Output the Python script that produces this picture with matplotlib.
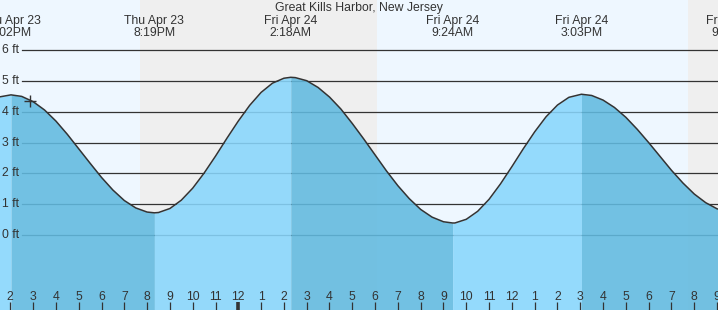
import matplotlib
matplotlib.use("Agg")
import matplotlib.pyplot as plt
from matplotlib.transforms import blended_transform_factory

# hours counted from Thu Apr 23 00:00
hours = [13.5, 14.03, 14.5, 15, 15.5, 16, 16.5, 17, 17.5, 18, 18.5, 19, 19.5, 20,
         20.32, 20.5, 21, 21.5, 22, 22.5, 23, 23.5, 24, 24.5, 25, 25.5, 26,
         26.3, 26.5, 27, 27.5, 28, 28.5, 29, 29.5, 30, 30.5, 31, 31.5, 32, 32.5, 33,
         33.4, 33.5, 34, 34.5, 35, 35.5, 36, 36.5, 37, 37.5, 38, 38.5,
         39.05, 39.5, 40, 40.5, 41, 41.5, 42, 42.5, 43, 43.5, 44, 44.5, 45, 45.5]
heights = [4.48, 4.55, 4.50, 4.33, 4.06, 3.70, 3.27, 2.80, 2.33, 1.87, 1.46, 1.12, 0.88, 0.745,
           0.72, 0.73, 0.86, 1.13, 1.52, 2.01, 2.56, 3.14, 3.70, 4.21, 4.63, 4.93, 5.09,
           5.12, 5.11, 5.01, 4.79, 4.48, 4.09, 3.62, 3.12, 2.60, 2.08, 1.60, 1.18, 0.83, 0.58, 0.43,
           0.39, 0.39, 0.51, 0.77, 1.16, 1.66, 2.22, 2.80, 3.35, 3.84, 4.22, 4.47,
           4.57, 4.53, 4.38, 4.14, 3.82, 3.43, 3.00, 2.55, 2.10, 1.69, 1.33, 1.05, 0.85, 0.76]

# high / low tide events
event_hours = [14.03, 20.32, 26.3, 33.4, 39.05, 45.68]
event_labels = ["Thu Apr 23\n2:02PM", "Thu Apr 23\n8:19PM", "Fri Apr 24\n2:18AM",
                "Fri Apr 24\n9:24AM", "Fri Apr 24\n3:03PM", "Fri Apr 24\n9:41PM"]

# night (sunset -> sunrise)
night_spans = [(19.69, 30.08), (43.72, 50.0)]

feet_levels = [0, 1, 2, 3, 4, 5, 6]
tick_hours = list(range(14, 46))
now_hour, now_height = 14.86, 4.36

TXT = "#333333"
plt.rcParams["font.family"] = ["Liberation Sans", "DejaVu Sans"]

fig = plt.figure(figsize=(7.18, 3.10), dpi=100)
ax = fig.add_axes([0, 0, 1, 1])
ax.set_xlim(13.548, 45.04)
ax.set_ylim(-2.435, 7.63)
ax.set_facecolor("#eef7ff")
ax.set_axisbelow(False)
for s in ax.spines.values():
    s.set_visible(False)

for a, b in night_spans:
    ax.axvspan(a, b, color="#efefef", lw=0, zorder=0)

ytrans = blended_transform_factory(ax.transAxes, ax.transData)
for lv in feet_levels:
    ax.axhline(lv, xmin=22 / 718, color=TXT, lw=0.9, zorder=1)
    ax.text(2 / 718, lv, f"{lv} ft", transform=ytrans,
            ha="left", va="center", fontsize=8.8, color=TXT, zorder=5)

# rising = light, falling = dark
bounds = [hours[0]] + event_hours[:-1] + [hours[-1]]
for i in range(len(bounds) - 1):
    lo, hi = bounds[i], bounds[i + 1]
    xs = [t for t in hours if lo <= t <= hi]
    ys = [h for t, h in zip(hours, heights) if lo <= t <= hi]
    rising = (i % 2 == 0)
    ax.fill_between(xs, ys, -3, color="#88d6fc" if rising else "#61bae0",
                    alpha=0.88, lw=0, zorder=2)

ax.plot(hours, heights, color=TXT, lw=1.1, zorder=4, solid_joinstyle="round")
ax.plot([now_hour], [now_height], marker="+", ms=8, mew=1.0, color=TXT, zorder=5)

ax.text(0.5, 7.36, "Great Kills Harbor, New Jersey", ha="center", va="center",
        transform=ytrans, fontsize=8.8, color=TXT)
for t, lab in zip(event_hours, event_labels):
    ax.text(t, 6.75, lab, ha="center", va="center", fontsize=8.8, color=TXT, linespacing=1.0)

ax.set_yticks([])
ax.set_xticks(tick_hours)
ax.set_xticklabels([])
ax.tick_params(axis="x", direction="in", length=5.8, width=0.9, color=TXT)
for tk, h in zip(ax.xaxis.get_major_ticks(), tick_hours):
    if h == 24:
        tk.tick1line.set_markeredgewidth(2.6)
        tk.tick1line.set_color("#111111")
    ax.text(h, -2.1, str((h - 1) % 12 + 1), ha="center", va="baseline", fontsize=8.8, color=TXT)

fig.savefig("out.png", dpi=100)
